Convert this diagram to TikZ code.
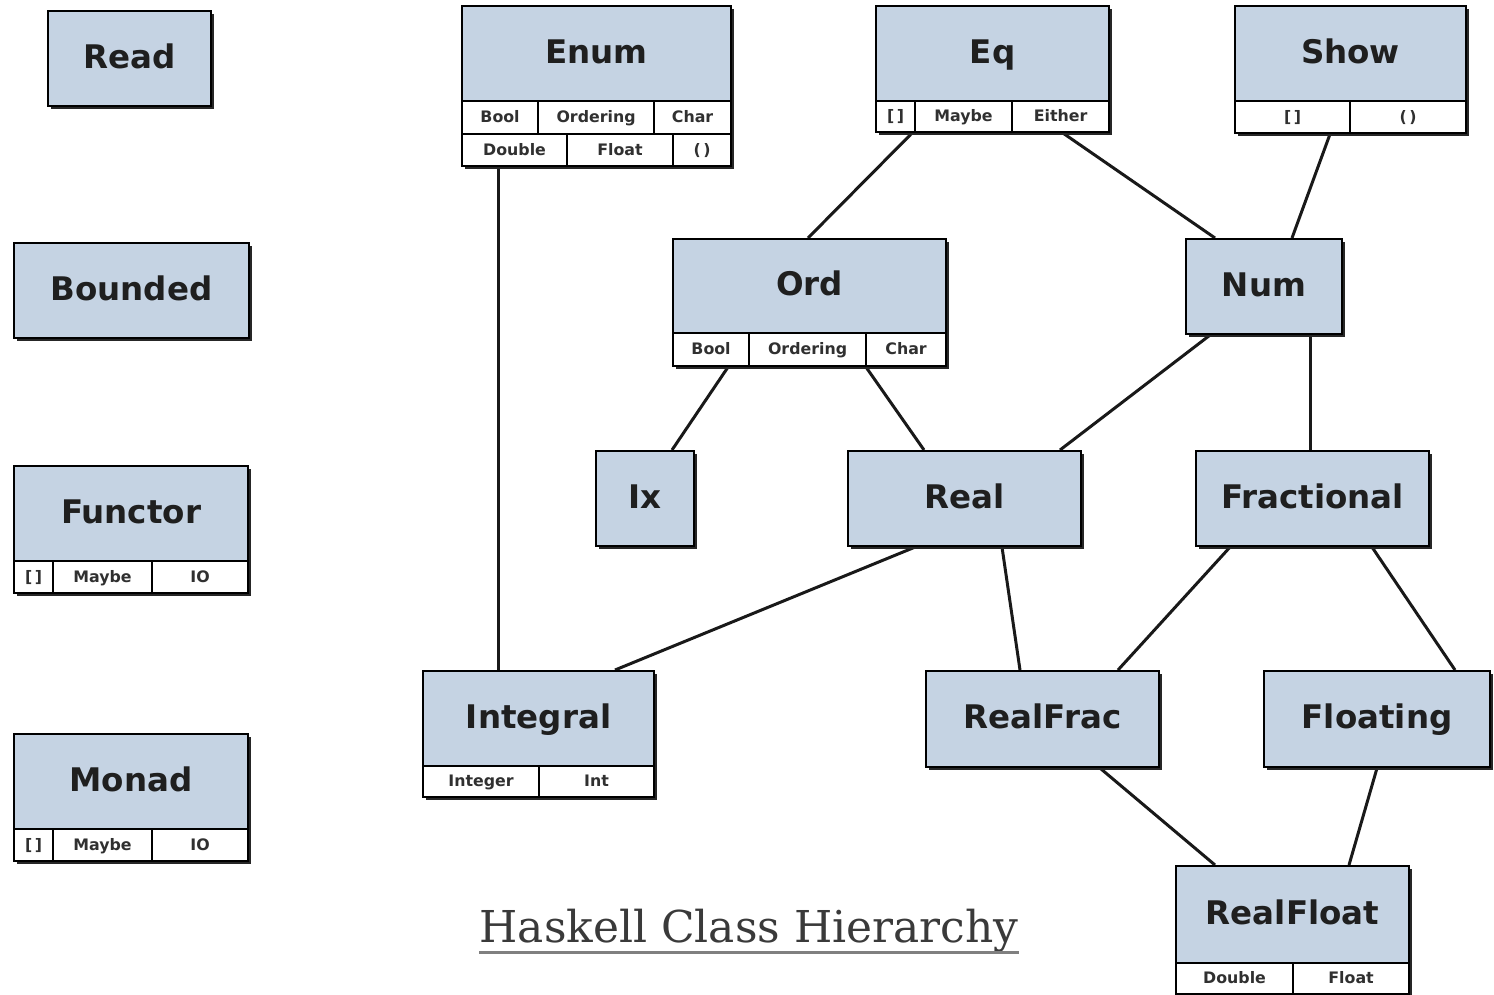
\documentclass[tikz,border=0pt]{standalone}
\usepackage{fontspec}
\setmainfont{DejaVu Sans}
\newfontfamily\titlefont{DejaVu Serif}
\usetikzlibrary{calc,backgrounds}
\definecolor{boxblue}{HTML}{C5D3E3}
\definecolor{celltext}{HTML}{303030}
\definecolor{titlegray}{HTML}{3A3A3A}
\tikzset{
  classbox/.style={draw=black, line width=1.2pt, fill=boxblue, anchor=north west, inner sep=0pt,
    font=\bfseries\fontsize{18.5}{20}\selectfont, text=black!88, text height=13.5pt, text depth=2.5pt},
  cellbox/.style={draw=black, line width=1.2pt, fill=white, anchor=north west, inner sep=0pt,
    font=\bfseries\fontsize{9}{10}\selectfont, text=celltext, text height=6.6pt, text depth=0.6pt},
  shadowbox/.style={fill=black!85},
  link/.style={line width=1.7pt, draw=black!90},
  titlenode/.style={font=\titlefont\fontsize{25}{30}\selectfont, text=titlegray, inner sep=0pt, anchor=base},
  underline/.style={line width=1.7pt, draw=black!50},
}
% name x1 y1 x2 y2 text
\newcommand{\mkbox}[6]{%
  \node[classbox, minimum width={(#4-#2)*0.02cm}, minimum height={(#5-#3)*0.02cm}] (#1) at (#2,#3) {#6};}
\newcommand{\mkcell}[6]{%
  \node[cellbox, minimum width={(#4-#2)*0.02cm}, minimum height={(#5-#3)*0.02cm}] (#1) at (#2,#3) {#6};}
% x1 y1 x2 y2
\newcommand{\mkshadow}[4]{%
  \fill[shadowbox] ({#1+4},{#2+4}) rectangle ({#3+4},{#4+4});}
\begin{document}
\begin{tikzpicture}[x=0.02cm, y=-0.02cm]
\useasboundingbox (0,0) rectangle (1494,994);

% shadows
\mkshadow{47}{10}{210}{105}
\mkshadow{13}{242}{248}{337}
\mkshadow{13}{465}{247}{592}
\mkshadow{13}{733}{247}{860}
\mkshadow{461}{5}{730}{165}
\mkshadow{875}{5}{1108}{131}
\mkshadow{1234}{5}{1465}{132}
\mkshadow{672}{238}{945}{365}
\mkshadow{1185}{238}{1341}{333}
\mkshadow{595}{450}{693}{545}
\mkshadow{847}{450}{1080}{545}
\mkshadow{1195}{450}{1428}{545}
\mkshadow{422}{670}{653}{796}
\mkshadow{925}{670}{1158}{766}
\mkshadow{1263}{670}{1489}{766}
\mkshadow{1175}{865}{1408}{993}

% boxes
\mkbox{Read}{47}{10}{210}{105}{Read}
\mkbox{Bounded}{13}{242}{248}{337}{Bounded}

\mkbox{Functor}{13}{465}{247}{560}{Functor}
\mkcell{Functor-1}{13}{560}{52}{592}{[\,]}
\mkcell{Functor-2}{52}{560}{151}{592}{Maybe}
\mkcell{Functor-3}{151}{560}{247}{592}{IO}

\mkbox{Monad}{13}{733}{247}{828}{Monad}
\mkcell{Monad-1}{13}{828}{52}{860}{[\,]}
\mkcell{Monad-2}{52}{828}{151}{860}{Maybe}
\mkcell{Monad-3}{151}{828}{247}{860}{IO}

\mkbox{Enum}{461}{5}{730}{100}{Enum}
\mkcell{Enum-1}{461}{100}{537}{133}{Bool}
\mkcell{Enum-2}{537}{100}{653}{133}{Ordering}
\mkcell{Enum-3}{653}{100}{730}{133}{Char}
\mkcell{Enum-4}{461}{133}{566}{165}{Double}
\mkcell{Enum-5}{566}{133}{672}{165}{Float}
\mkcell{Enum-6}{672}{133}{730}{165}{(\,)}

\mkbox{Eq}{875}{5}{1108}{100}{Eq}
\mkcell{Eq-1}{875}{100}{914}{131}{[\,]}
\mkcell{Eq-2}{914}{100}{1011}{131}{Maybe}
\mkcell{Eq-3}{1011}{100}{1108}{131}{Either}

\mkbox{Show}{1234}{5}{1465}{100}{Show}
\mkcell{Show-1}{1234}{100}{1349}{132}{[\,]}
\mkcell{Show-2}{1349}{100}{1465}{132}{(\,)}

\mkbox{Ord}{672}{238}{945}{332}{Ord}
\mkcell{Ord-1}{672}{332}{748}{365}{Bool}
\mkcell{Ord-2}{748}{332}{865}{365}{Ordering}
\mkcell{Ord-3}{865}{332}{945}{365}{Char}

\mkbox{Num}{1185}{238}{1341}{333}{Num}
\mkbox{Ix}{595}{450}{693}{545}{Ix}
\mkbox{Real}{847}{450}{1080}{545}{Real}
\mkbox{Fractional}{1195}{450}{1428}{545}{Fractional}

\mkbox{Integral}{422}{670}{653}{765}{Integral}
\mkcell{Integral-1}{422}{765}{538}{796}{Integer}
\mkcell{Integral-2}{538}{765}{653}{796}{Int}

\mkbox{RealFrac}{925}{670}{1158}{766}{RealFrac}
\mkbox{Floating}{1263}{670}{1489}{766}{Floating}

\mkbox{RealFloat}{1175}{865}{1408}{962}{RealFloat}
\mkcell{RealFloat-1}{1175}{962}{1292}{993}{Double}
\mkcell{RealFloat-2}{1292}{962}{1408}{993}{Float}

% title
\node[titlenode] (title) at (749,942) {Haskell Class Hierarchy};
\draw[underline] ($(title.base west)+(0,10)$) -- ($(title.base east)+(0,10)$);

% connectors
\begin{scope}[on background layer]
\fill[white] (0,0) rectangle (1494,994);
\draw[link] ($(Enum-4.south west)+(37,0)$) -- ($(Integral.north west)+(76,0)$);
\draw[link] ($(Eq-1.south west)+(37,0)$) -- ($(Ord.north west)+(136,0)$);
\draw[link] ($(Eq-3.south west)+(52,0)$) -- ($(Num.north west)+(30,0)$);
\draw[link] ($(Show-1.south west)+(96,0)$) -- ($(Num.north west)+(107,0)$);
\draw[link] ($(Ord-1.south west)+(56,0)$) -- ($(Ix.north west)+(77,0)$);
\draw[link] ($(Ord-3.south west)+(1,0)$) -- ($(Real.north west)+(77,0)$);
\draw[link] ($(Num.south west)+(25,0)$) -- ($(Real.north west)+(213,0)$);
\draw[link] ($(Num.south west)+(125,0)$) -- ($(Fractional.north west)+(115,0)$);
\draw[link] ($(Real.south west)+(68,0)$) -- ($(Integral.north west)+(193,0)$);
\draw[link] ($(Real.south west)+(155,0)$) -- ($(RealFrac.north west)+(95,0)$);
\draw[link] ($(Fractional.south west)+(35,0)$) -- ($(RealFrac.north west)+(193,0)$);
\draw[link] ($(Fractional.south west)+(177,0)$) -- ($(Floating.north west)+(192,0)$);
\draw[link] ($(RealFrac.south west)+(175,0)$) -- ($(RealFloat.north west)+(40,0)$);
\draw[link] ($(Floating.south west)+(114,0)$) -- ($(RealFloat.north west)+(174,0)$);
\end{scope}
\end{tikzpicture}
\end{document}
